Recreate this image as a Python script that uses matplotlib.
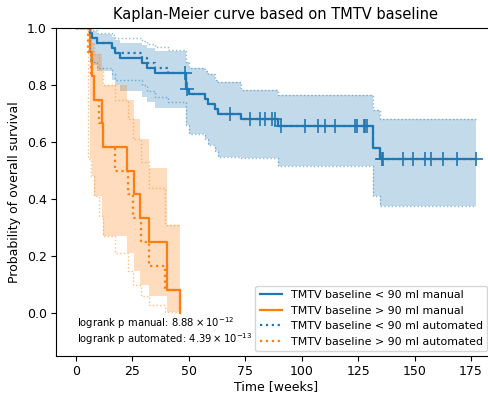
import numpy as np
import matplotlib
matplotlib.use("Agg")
import matplotlib.pyplot as plt
from matplotlib.lines import Line2D

# ---------------- data ----------------
# TMTV < 90 ml, manual
bm_t = [0, 6.0, 7.0, 9.2, 15.8, 17.3, 19.5, 29.1, 31.6, 35.0, 48.6, 50.0, 57.2, 58.7, 61.6, 63.0, 73.0, 89.5, 131.5, 134.8, 177.3]
bm_s = [1.0, 0.982, 0.965, 0.947, 0.930, 0.912, 0.895, 0.877, 0.860, 0.842, 0.788, 0.770, 0.752, 0.734, 0.716, 0.698, 0.680, 0.656, 0.580, 0.542, 0.542]
bm_lo = [1.0, 0.88, 0.87, 0.85, 0.82, 0.80, 0.78, 0.76, 0.74, 0.72, 0.66, 0.63, 0.61, 0.59, 0.57, 0.55, 0.545, 0.516, 0.41, 0.376, 0.376]
bm_hi = [1.0, 0.997, 0.99, 0.98, 0.97, 0.96, 0.95, 0.94, 0.93, 0.92, 0.88, 0.86, 0.85, 0.84, 0.82, 0.81, 0.784, 0.767, 0.714, 0.683, 0.683]
bm_cens = [48.2, 49.2, 68.3, 77.0, 81.6, 83.8, 86.7, 88.2, 91.0, 101.5, 107.4, 110.4, 114.8, 123.7, 124.5,
           127.4, 128.1, 128.9, 135.5, 136.2, 145.0, 149.4, 154.6, 157.5, 162.5, 168.7, 177.3]

# TMTV > 90 ml, manual
om_t = [0, 6.3, 7.0, 7.8, 11.4, 12.1, 22.7, 25.7, 28.4, 32.5, 40.2, 46.1]
om_s = [1.0, 0.917, 0.833, 0.75, 0.667, 0.583, 0.5, 0.417, 0.333, 0.25, 0.083, 0.0]
om_lo = [1.0, 0.54, 0.48, 0.41, 0.34, 0.27, 0.21, 0.15, 0.10, 0.06, 0.003, 0.003]
om_hi = [1.0, 0.99, 0.95, 0.91, 0.86, 0.80, 0.75, 0.68, 0.61, 0.51, 0.31, 0.31]

# TMTV < 90 ml, automated
ba_t = [0, 6.0, 7.0, 9.2, 15.8, 17.3, 29.1, 31.6, 35.0, 40.6, 48.6, 50.0, 57.2, 58.7, 61.6, 63.0, 73.0, 89.5, 131.5, 134.8, 177.3]
ba_s = [1.0, 0.982, 0.965, 0.947, 0.930, 0.912, 0.895, 0.877, 0.860, 0.842, 0.788, 0.770, 0.752, 0.734, 0.716, 0.698, 0.680, 0.656, 0.580, 0.542, 0.542]
ba_lo = [1.0, 0.89, 0.88, 0.86, 0.84, 0.82, 0.80, 0.78, 0.76, 0.74, 0.66, 0.63, 0.61, 0.59, 0.57, 0.55, 0.545, 0.516, 0.41, 0.376, 0.376]
ba_hi = [1.0, 0.997, 0.993, 0.985, 0.975, 0.965, 0.955, 0.945, 0.935, 0.925, 0.88, 0.86, 0.85, 0.84, 0.82, 0.81, 0.784, 0.767, 0.714, 0.683, 0.683]

# TMTV > 90 ml, automated
oa_t = [0, 5.5, 6.5, 8.0, 10.0, 12.0, 17.3, 23.0, 25.4, 28.7, 32.5, 39.4, 46.1]
oa_s = [1.0, 0.917, 0.833, 0.75, 0.667, 0.583, 0.5, 0.417, 0.333, 0.25, 0.167, 0.083, 0.0]
oa_lo = [1.0, 0.54, 0.48, 0.41, 0.34, 0.27, 0.21, 0.15, 0.10, 0.06, 0.03, 0.005, 0.005]
oa_hi = [1.0, 0.99, 0.95, 0.91, 0.86, 0.80, 0.75, 0.68, 0.61, 0.53, 0.44, 0.31, 0.31]

labels = ["TMTV baseline < 90 ml manual", "TMTV baseline > 90 ml manual",
          "TMTV baseline < 90 ml automated", "TMTV baseline > 90 ml automated"]
p_manual = r"logrank p manual: $8.88 \times 10^{-12}$"
p_auto = r"logrank p automated: $4.39 \times 10^{-13}$"

BLUE = "#1f77b4"
ORANGE = "#ff7f0e"

# ---------------- figure ----------------
fig = plt.figure(figsize=(4.89, 3.95), dpi=100)
ax = fig.add_axes([56 / 489, 1 - 356.0 / 395, (496 - 56) / 489, (356.0 - 28.3) / 395])


def step_at(times, vals, t):
    idx = np.searchsorted(np.asarray(times), t, side="right") - 1
    return np.asarray(vals)[idx]


# manual: filled CI + solid lines
ax.fill_between(bm_t, bm_lo, bm_hi, step="post", color=BLUE, alpha=0.27, linewidth=0)
ax.fill_between(om_t, om_lo, om_hi, step="post", color=ORANGE, alpha=0.27, linewidth=0)
ax.step(bm_t, bm_s, where="post", color=BLUE, lw=1.6)
ax.step(om_t, om_s, where="post", color=ORANGE, lw=1.6)
ax.plot(bm_cens, step_at(bm_t, bm_s, bm_cens), ls="none", marker="+", ms=10, mew=1.2, color=BLUE)

# automated: dotted CI edges + dotted lines
for t, lo, hi, c in [(ba_t, ba_lo, ba_hi, BLUE), (oa_t, oa_lo, oa_hi, ORANGE)]:
    ax.step(t, lo, where="post", color=c, lw=1.0, ls=":", alpha=0.5)
    ax.step(t, hi, where="post", color=c, lw=1.0, ls=":", alpha=0.5)
ax.step(ba_t, ba_s, where="post", color=BLUE, lw=1.6, ls=":")
ax.step(oa_t, oa_s, where="post", color=ORANGE, lw=1.6, ls=":")

ax.set_xlim(-8.86, 186.1)
ax.set_ylim(-0.15, 1.0)
ax.set_xticks([0, 25, 50, 75, 100, 125, 150, 175])
ax.set_yticks([0.0, 0.2, 0.4, 0.6, 0.8, 1.0])
ax.tick_params(labelsize=9, pad=3)
ax.set_xlabel("Time [weeks]", fontsize=9, labelpad=1.5)
ax.set_ylabel("Probability of overall survival", fontsize=9)
ax.set_title("Kaplan-Meier curve based on TMTV baseline", fontsize=10.5, pad=7)

ax.text(0.3, -0.036, p_manual, fontsize=7.2, va="center", ha="left")
ax.text(0.3, -0.089, p_auto, fontsize=7.2, va="center", ha="left")

handles = [Line2D([], [], color=BLUE, lw=1.6),
           Line2D([], [], color=ORANGE, lw=1.6),
           Line2D([], [], color=BLUE, lw=1.6, ls=":"),
           Line2D([], [], color=ORANGE, lw=1.6, ls=":")]
ax.legend(handles, labels, loc="lower right", fontsize=7.9,
          bbox_to_anchor=(487 / 489, 1 - 351 / 395), bbox_transform=fig.transFigure,
          borderaxespad=0)

fig.savefig("out.png", dpi=100)
